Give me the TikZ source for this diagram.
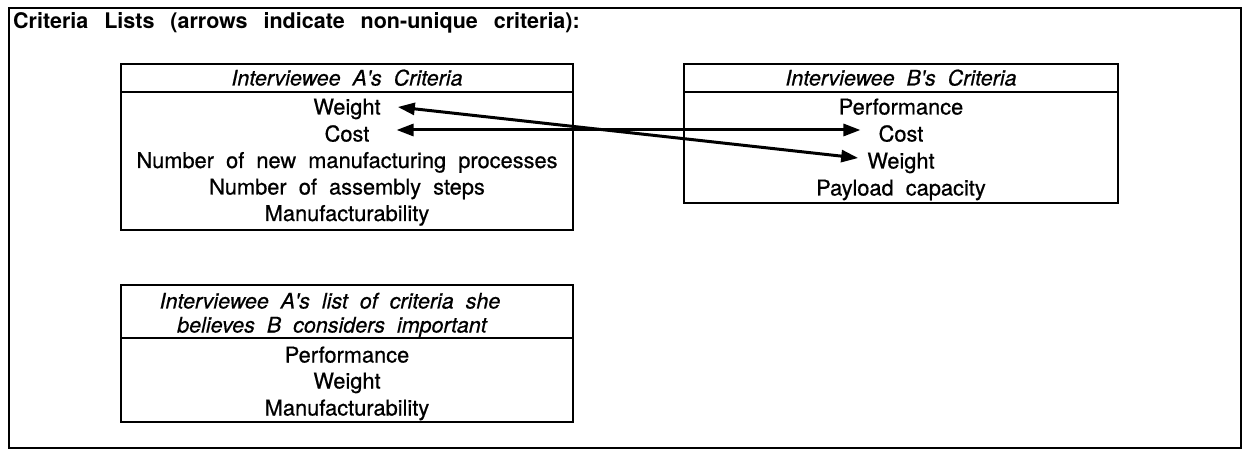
\documentclass[tikz,border=0pt]{standalone}
\usepackage{fontspec}
\setmainfont{TeX Gyre Heros}[WordSpace=2]
\newfontfamily\listfont{TeX Gyre Heros}[WordSpace=2, FakeBold=0.7]
\newfontfamily\headfont{TeX Gyre Heros Italic}[WordSpace=2, FakeBold=0.6]
\usetikzlibrary{arrows.meta}
\begin{document}
\begin{tikzpicture}[x=1pt,y=-1pt,
  frame/.style={line width=2.6pt},
  rule/.style={line width=2.5pt},
  entry/.style={inner sep=0pt, text height=15pt, text depth=0pt,
    font=\fontsize{21.8}{25}\listfont},
  headline/.style={entry, font=\fontsize{21.5}{25}\headfont},
  title/.style={inner sep=0pt, anchor=base west,
    font=\fontsize{21.5}{25}\selectfont\bfseries},
  link/.style={line width=3pt,
    {Triangle[length=17pt,width=12pt]}-{Triangle[length=17pt,width=12pt]}},
]
\useasboundingbox (0,0) rectangle (1243,449);

% outer frame and title
\draw[frame] (9,8) rectangle (1241,448);
\node[title] (title) at (13,29) {Criteria\hspace{4pt} Lists\hspace{4pt} (arrows\hspace{4pt} indicate\hspace{4pt} non-unique\hspace{4pt} criteria):};

% list of interviewee A
\draw[rule] (121,64) rectangle (573,230);
\draw[rule] (121,92) -- (573,92);
\node[headline] (aHead) at (347,78) {Interviewee A's Criteria};
\node[entry] (aWeight) at (347,107)   {Weight};
\node[entry] (aCost)   at (347,134)   {Cost};
\node[entry] (aProc)   at (347,160.5) {Number of new manufacturing processes};
\node[entry] (aSteps)  at (347,187)   {Number of assembly steps};
\node[entry] (aManuf)  at (347,213.5) {Manufacturability};

% list of interviewee B
\draw[rule] (684,64) rectangle (1118,203);
\draw[rule] (684,92) -- (1118,92);
\node[headline] (bHead) at (901,78) {Interviewee B's Criteria};
\node[entry] (bPerf)    at (901,107) {Performance};
\node[entry] (bCost)    at (901,134) {Cost};
\node[entry] (bWeight)  at (901,161) {Weight};
\node[entry] (bPayload) at (901,188) {Payload capacity};

% A's view of what B finds important
\draw[rule] (121,285) rectangle (573,422);
\draw[rule] (121,338) -- (573,338);
\node[headline] (cHeadA) at (330,301) {Interviewee A's list of criteria she};
\node[headline] (cHeadB) at (332,325) {believes B considers important};
\node[entry] (cPerf)   at (347,355) {Performance};
\node[entry] (cWeight) at (347,381) {Weight};
\node[entry] (cManuf)  at (347,408) {Manufacturability};

% shared criteria
\draw[link] ([xshift=27pt,yshift=4pt]aCost.east) -- ([xshift=-18pt,yshift=4pt]bCost.west);
\draw[link] ([xshift=17pt]aWeight.east) -- ([xshift=-9pt,yshift=3pt]bWeight.west);
\end{tikzpicture}
\end{document}
